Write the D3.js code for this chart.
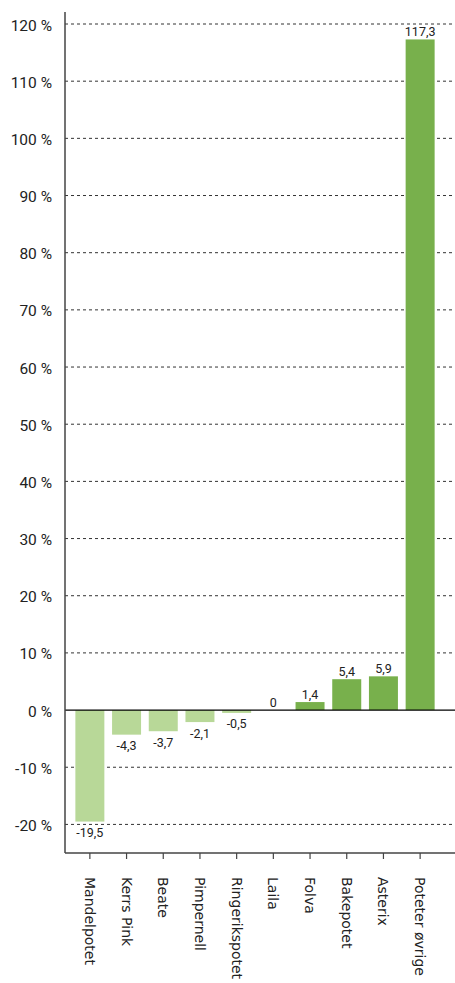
<!DOCTYPE html>
<html><head><meta charset="utf-8">
<script src="https://cdn.jsdelivr.net/npm/d3@7"></script>
<style>body{margin:0;background:#fff}svg{display:block}text{font-family:Roboto,"DejaVu Sans",sans-serif}</style>
</head><body><svg id="c" width="455" height="983"></svg>
<script>
const categories=["Mandelpotet","Kerrs Pink","Beate","Pimpernell","Ringerikspotet","Laila","Folva","Bakepotet","Asterix","Poteter øvrige"];
const values=[-19.5,-4.3,-3.7,-2.1,-0.5,0,1.4,5.4,5.9,117.3];
const yTicks=[-20,-10,0,10,20,30,40,50,60,70,80,90,100,110,120];

const svg=d3.select("#c");
const x=d3.scaleBand().domain(categories).range([71.7,438.3]).paddingInner(0.21).paddingOuter(0.1);
const y=d3.scaleLinear().domain([-25,122.1]).range([853,12]);
const fmt=v=>String(v).replace(".",",");

// gridlines
svg.append("g").selectAll("line").data(yTicks.filter(d=>d!==0)).join("line")
 .attr("x1",65).attr("x2",455).attr("y1",d=>y(d)).attr("y2",d=>y(d))
 .attr("stroke","#333").attr("stroke-width",1).attr("stroke-dasharray","3,3");

// y labels
svg.append("g").selectAll("text").data(yTicks).join("text")
 .attr("x",52).attr("y",d=>y(d)+1).attr("dy","0.36em").attr("text-anchor","end")
 .attr("font-size",15.5).attr("fill","#222").text(d=>d+" %");

// bars
svg.append("g").selectAll("rect").data(values).join("rect")
 .attr("x",(d,i)=>x(categories[i])).attr("width",x.bandwidth())
 .attr("y",d=>y(Math.max(0,d))).attr("height",d=>Math.abs(y(d)-y(0)))
 .attr("fill",d=>d<0?"#b8d898":"#78b04c");

// zero line
svg.append("line").attr("x1",65).attr("x2",455).attr("y1",y(0)).attr("y2",y(0)).attr("stroke","#000").attr("stroke-width",1.2);

// value labels
svg.append("g").selectAll("text").data(values).join("text")
 .attr("x",(d,i)=>x(categories[i])+x.bandwidth()/2)
 .attr("y",d=>d<0?y(d)+11:y(d)-8).attr("dy","0.36em").attr("text-anchor","middle")
 .attr("font-size",12.5).attr("fill","#222").text(d=>fmt(d));

// axes lines
svg.append("line").attr("x1",65).attr("x2",65).attr("y1",12).attr("y2",853).attr("stroke","#444").attr("stroke-width",1.5);
svg.append("line").attr("x1",65).attr("x2",455).attr("y1",853).attr("y2",853).attr("stroke","#444").attr("stroke-width",1.5);

// x ticks and labels
const xg=svg.append("g").selectAll("g").data(categories).join("g")
 .attr("transform",d=>`translate(${x(d)+x.bandwidth()/2},853)`);
xg.append("line").attr("y1",0).attr("y2",6).attr("stroke","#444").attr("stroke-width",1.2);
xg.append("text").attr("transform","translate(0,24) rotate(90)").attr("dy","0.36em")
 .attr("font-size",14).attr("fill","#222").style("font-family","'DejaVu Sans',sans-serif").text(d=>d);
</script></body></html>
